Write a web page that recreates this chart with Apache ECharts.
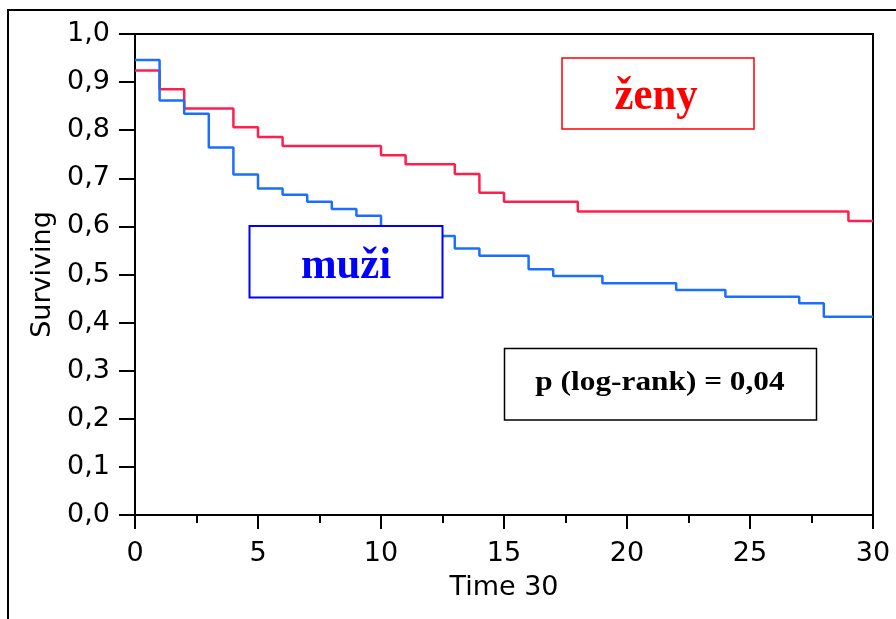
<!DOCTYPE html>
<html>
<head>
<meta charset="utf-8">
<script src="https://cdn.jsdelivr.net/npm/echarts@6/dist/echarts.min.js"></script>
<style>html,body{margin:0;padding:0;background:#fff}#c{width:896px;height:619px}</style>
</head>
<body>
<div id="c"></div>
<script>
// Kaplan-Meier survival estimates (time, surviving)
var zenyTime = [0, 1, 2, 4, 5, 6, 10, 11, 13, 14, 15, 18, 29, 30];
var zenySurv = [0.924, 0.885, 0.845, 0.806, 0.786, 0.767, 0.748, 0.729, 0.709, 0.670, 0.651, 0.631, 0.611, 0.611];
var muziTime = [0, 1, 2, 3, 4, 5, 6, 7, 8, 9, 10, 12, 13, 14, 16, 17, 19, 22, 24, 27, 28, 30];
var muziSurv = [0.946, 0.862, 0.834, 0.764, 0.708, 0.679, 0.666, 0.651, 0.636, 0.622, 0.594, 0.580, 0.554, 0.539, 0.511, 0.497, 0.482, 0.468, 0.454, 0.440, 0.412, 0.412];
var yTickLabels = ['0,0', '0,1', '0,2', '0,3', '0,4', '0,5', '0,6', '0,7', '0,8', '0,9', '1,0'];
var xTickLabels = ['0', '5', '10', '15', '20', '25', '30'];
var groupLabels = ['ženy', 'muži'];
var pText = 'p (log-rank) = 0,04';

function pairs(t, s) { return t.map(function (v, i) { return [v, s[i]]; }); }

var chart = echarts.init(document.getElementById('c'), null, { renderer: 'canvas' });
var axisFont = 'DejaVu Sans';
var serif = 'Liberation Serif';
chart.setOption({
  animation: false,
  backgroundColor: '#fff',
  grid: { left: 135, right: 23, top: 34, bottom: 104, show: true, borderColor: '#000', borderWidth: 2, backgroundColor: 'transparent' },
  xAxis: {
    type: 'value', min: 0, max: 30, interval: 5,
    name: 'Time 30', nameLocation: 'middle', nameGap: 59,
    nameTextStyle: { fontFamily: axisFont, fontSize: 27, color: '#000' },
    axisLine: { onZero: false, lineStyle: { color: '#000', width: 2 } },
    axisTick: { inside: false, length: 14, lineStyle: { color: '#000', width: 2 } },
    minorTick: { show: true, splitNumber: 2, length: 8, lineStyle: { color: '#000', width: 2 } },
    axisLabel: { margin: 25, fontFamily: axisFont, fontSize: 27, color: '#000',
      formatter: function (v) { return xTickLabels[Math.round(v / 5)]; } },
    splitLine: { show: false }
  },
  yAxis: {
    type: 'value', min: 0, max: 1, interval: 0.1,
    name: 'Surviving', nameLocation: 'middle', nameGap: 78, nameRotate: 90,
    nameTextStyle: { fontFamily: axisFont, fontSize: 27, color: '#000' },
    axisLine: { onZero: false, lineStyle: { color: '#000', width: 2 } },
    axisTick: { inside: false, length: 16, lineStyle: { color: '#000', width: 2 } },
    axisLabel: { margin: 25, fontFamily: axisFont, fontSize: 27, color: '#000',
      formatter: function (v) { return yTickLabels[Math.round(v * 10)]; } },
    splitLine: { show: false }
  },
  series: [
    { name: groupLabels[0], type: 'line', step: 'end', data: pairs(zenyTime, zenySurv), symbol: 'none',
      lineStyle: { color: '#ff1f4f', width: 2.5 }, z: 3 },
    { name: groupLabels[1], type: 'line', step: 'end', data: pairs(muziTime, muziSurv), symbol: 'none',
      lineStyle: { color: '#1a6fff', width: 2.5 }, z: 3 }
  ],
  graphic: [
    { type: 'rect', shape: { x: 8, y: 10, width: 900, height: 620 }, style: { fill: 'none', stroke: '#000', lineWidth: 2 }, z: 1 },
    { type: 'rect', shape: { x: 562, y: 58, width: 192, height: 71 }, style: { fill: '#fff', stroke: '#ff0000', lineWidth: 1.5 }, z: 10 },
    { type: 'text', x: 656, y: 97, scaleX: 0.93, style: { text: groupLabels[0], fill: '#ff0000', fontFamily: serif, fontWeight: 'bold', fontSize: 46, textAlign: 'center', textVerticalAlign: 'middle' }, z: 11 },
    { type: 'rect', shape: { x: 249.5, y: 226, width: 193, height: 71.5 }, style: { fill: '#fff', stroke: '#0000ff', lineWidth: 2 }, z: 10 },
    { type: 'text', x: 346, y: 266, scaleX: 0.95, style: { text: groupLabels[1], fill: '#0000ff', fontFamily: serif, fontWeight: 'bold', fontSize: 45, textAlign: 'center', textVerticalAlign: 'middle' }, z: 11 },
    { type: 'rect', shape: { x: 504.5, y: 348.5, width: 312, height: 71.5 }, style: { fill: '#fff', stroke: '#000', lineWidth: 1.5 }, z: 10 },
    { type: 'text', x: 660, y: 383, scaleX: 1.16, style: { text: pText, fill: '#000', fontFamily: serif, fontWeight: 'bold', fontSize: 27, textAlign: 'center', textVerticalAlign: 'middle' }, z: 11 }
  ]
});
</script>
</body>
</html>
